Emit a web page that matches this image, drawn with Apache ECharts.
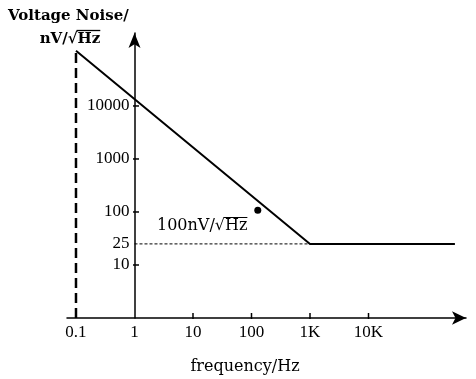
<!DOCTYPE html>
<html><head><meta charset="utf-8">
<script src="https://cdn.jsdelivr.net/npm/echarts@6/dist/echarts.min.js"></script>
<style>html,body{margin:0;padding:0;background:#fff}#c{width:476px;height:379px}</style>
</head><body><div id="c"></div>
<script>
// ---- data ----
const freqTicks = [0.1, 1, 10, 100, 1000, 10000];
const freqTickLabels = ['0.1', '1', '10', '100', '1K', '10K'];
const noiseTickMarks = [10, 100, 1000, 10000];
const noiseLabelValues = [10, 25, 100, 1000, 10000];
const noiseLabelTexts = ['10', '25', '100', '1000', '10000'];
const noiseFreq = [0.1, 1000, 300000];
const noiseValue = [110000, 25, 25];
const startFreq = 0.1;
const startNoise = 110000;
const cornerFreq = 1000;
const floorNoise = 25;
const markerFreq = [128];
const markerNoise = [108];
const xMin = 0.0702, xMax = 464000, yMin = 1, yMax = 238000;
const yAxisAt = 1; // frequency where the vertical axis crosses

const chart = echarts.init(document.getElementById('c'), null, {renderer: 'canvas'});

function mw(t, font) {
  const c = document.createElement('canvas').getContext('2d');
  c.font = font; return c.measureText(t).width;
}
const annFont = '16px "DejaVu Serif"';
const annX = 157, annY = 226;
const annPre = mw('100nV/\u221A', annFont), annAll = mw('100nV/\u221AHz', annFont);
const t2Font = 'bold 15px "DejaVu Serif"';
const t2W = mw('nV/\u221AHz', t2Font), t2Pre = mw('nV/\u221A', t2Font);
const t2Cx = 70, t2Y = 39, t2L = t2Cx - t2W / 2;

const black = '#000';
const option = {
  animation: false,
  backgroundColor: '#fff',
  grid: {left: 67, right: 10, top: 33, bottom: 61, outerBoundsMode: 'none'},
  xAxis: {
    type: 'log', logBase: 10, min: xMin, max: xMax,
    axisLine: {show: true, onZero: false, symbol: ['none', 'arrow'], symbolSize: [10, 14],
      lineStyle: {color: black, width: 1.5}},
    axisTick: {show: false},
    minorTick: {show: false},
    axisLabel: {customValues: freqTicks, color: black, fontFamily: 'Liberation Serif', fontSize: 17, margin: 6,
      formatter: v => { const i = freqTicks.findIndex(f => Math.abs(f - v) / f < 1e-6); return i >= 0 ? freqTickLabels[i] : ''; }},
    splitLine: {show: false}
  },
  yAxis: {
    type: 'log', logBase: 10, min: yMin, max: yMax, position: 'left', offset: -67.5,
    axisLine: {show: true, onZero: false, symbol: ['none', 'arrow'], symbolSize: [9, 15],
      lineStyle: {color: black, width: 1.5}},
    axisTick: {show: false},
    minorTick: {show: false},
    axisLabel: {customValues: noiseLabelValues, color: black, fontFamily: 'Liberation Serif', fontSize: 17, margin: 5,
      formatter: v => { const i = noiseLabelValues.findIndex(f => Math.abs(f - v) / f < 1e-6); return i >= 0 ? noiseLabelTexts[i] : ''; }},
    splitLine: {show: false}
  },
  series: [
    {type: 'line', data: noiseFreq.map((f, i) => [f, noiseValue[i]]), symbol: 'none',
      lineStyle: {color: black, width: 2}, z: 5},
    {type: 'line', data: [[startFreq, yMin], [startFreq, startNoise]], symbol: 'none',
      lineStyle: {color: black, width: 2.5, type: [10, 5]}, z: 4},
    {type: 'line', data: [[yAxisAt, floorNoise], [cornerFreq, floorNoise]], symbol: 'none',
      lineStyle: {color: black, width: 1, type: [3, 2]}, z: 4},
    {type: 'scatter', data: markerFreq.map((f, i) => [f, markerNoise[i]]), symbol: 'circle', symbolSize: 7,
      itemStyle: {color: black, opacity: 1}, z: 6},
    // axis tick marks, placed through the axes' scales
    {type: 'scatter', data: freqTicks.slice(2).map(f => [f, yMin]), symbol: 'rect', symbolSize: [1.5, 6],
      symbolOffset: [0, -2], itemStyle: {color: black, opacity: 1}, silent: true, clip: false, z: 3},
    {type: 'scatter', data: noiseTickMarks.map(v => [yAxisAt, v]), symbol: 'rect', symbolSize: [6, 1.5],
      symbolOffset: [1.5, 0], itemStyle: {color: black, opacity: 1}, silent: true, clip: false, z: 3}
  ],
  graphic: [
    {type: 'text', left: 8, top: 9, style: {text: 'Voltage Noise/', font: 'bold 15px "DejaVu Serif"', fill: black}},
    {type: 'text', x: t2L, y: t2Y, style: {text: 'nV/\u221AHz', font: t2Font, fill: black, verticalAlign: 'middle'}},
    {type: 'line', shape: {x1: t2L + t2Pre - 1, y1: t2Y - 8.5, x2: t2L + t2W, y2: t2Y - 8.5}, style: {stroke: black, lineWidth: 1.3}},
    {type: 'text', x: annX, y: annY, style: {text: '100nV/\u221AHz', font: annFont, fill: black, verticalAlign: 'middle'}},
    {type: 'line', shape: {x1: annX + annPre - 1, y1: annY - 8.5, x2: annX + annAll, y2: annY - 8.5}, style: {stroke: black, lineWidth: 1}},
    {type: 'text', x: 245, y: 367, style: {text: 'frequency/Hz', font: '16px "DejaVu Serif"', fill: black, align: 'center', verticalAlign: 'middle'}}
  ]
};
chart.setOption(option);
</script></body></html>
